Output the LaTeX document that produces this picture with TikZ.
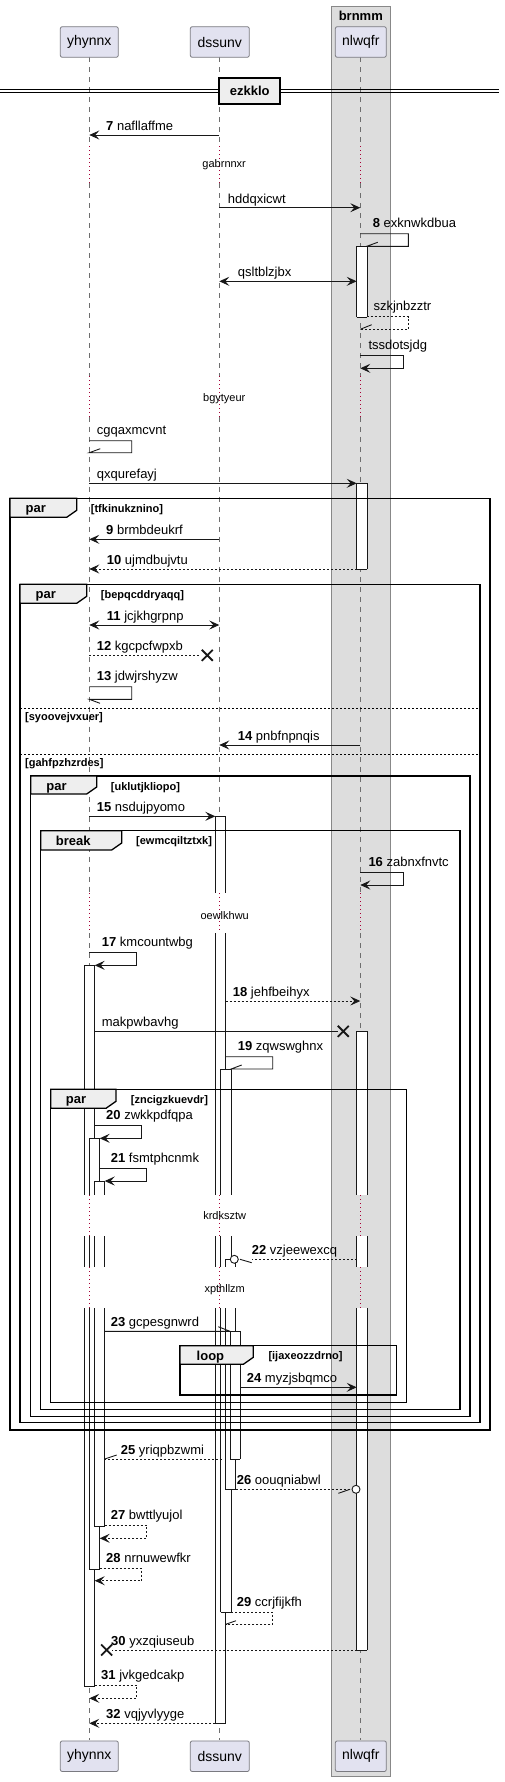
\documentclass[tikz,border=0pt]{standalone}
\usepackage{fontspec}
\setmainfont{Liberation Sans}
\usetikzlibrary{arrows.meta}
\definecolor{partfill}{HTML}{E2E2F0}
\definecolor{partline}{HTML}{7A7A80}
\definecolor{boxfill}{HTML}{DDDDDD}
\definecolor{boxline}{HTML}{888888}
\definecolor{tabfill}{HTML}{EEEEEE}
\definecolor{delaycol}{HTML}{A80036}
\definecolor{lifecol}{HTML}{6E6E6E}
\definecolor{msgcol}{HTML}{181818}
\newcommand{\xY}{89.3}
\newcommand{\xD}{219.3}
\newcommand{\xN}{360.3}
\newcommand{\actseg}[3]{\fill[white] (#1,#2) rectangle (#1+10.4,#3);
  \draw[line width=0.9pt,msgcol] (#1,#2) -- (#1,#3) (#1+10.4,#2) -- (#1+10.4,#3);}
\newcommand{\actcap}[2]{\draw[line width=0.9pt,msgcol] (#1,#2) -- (#1+10.4,#2);}

\begin{document}
\begin{tikzpicture}[x=1pt,y=-1pt,
  lbl/.style={anchor=base west,inner sep=0pt,font=\fontsize{13}{15}\selectfont},
  cond/.style={anchor=base west,inner sep=0pt,font=\fontsize{11}{13}\selectfont\bfseries},
  kw/.style={anchor=base west,inner sep=0pt,font=\fontsize{13}{15}\selectfont\bfseries},
  dly/.style={inner sep=0pt,font=\fontsize{11}{13}\selectfont},
  partbox/.style={draw=partline,fill=partfill,line width=0.8pt,rounded corners=2pt,minimum height=30.6pt,inner sep=0pt,font=\fontsize{14}{16}\selectfont},
  msg/.style={line width=0.9pt,draw=msgcol},
  ret/.style={msg,dash pattern=on 2pt off 2pt},
  fwd/.style={-{Stealth[length=10pt,width=9pt,inset=4pt]}},
  twoway/.style={{Stealth[length=10pt,width=9pt,inset=4pt]}-{Stealth[length=10pt,width=9pt,inset=4pt]}},
  life/.style={draw=lifecol,line width=0.6pt,dash pattern=on 5pt off 5pt},
  dlife/.style={draw=delaycol,line width=0.8pt,dash pattern=on 1pt off 3pt},
  frm/.style={draw=black,line width=1.3pt},
  fragtab/.style={frm,fill=tabfill},
  lostx/.style={line width=1.8pt,draw=msgcol},
  sep/.style={draw=black,line width=0.8pt,dash pattern=on 2pt off 2pt},
]
\useasboundingbox (0,0) rectangle (505,1782);

% box round nlwqfr
\filldraw[fill=boxfill,draw=boxline,line width=0.8pt] (331.3,6) rectangle (390.3,1776.7);
\node[font=\fontsize{13}{15}\selectfont\bfseries] (brnmm) at (360.8,15.5) {brnmm};

% lifelines
\foreach \lx in {\xY,\xD,\xN}{
  \foreach \ya/\yb in {57.3/146,183.3/376,416.7/893.3,933.3/1195,1236/1267.3,1308.3/1740}
    \draw[life] (\lx,\ya) -- (\lx,\yb);
  \foreach \ya/\yb in {146/183.3,376/416.7,893.3/933.3,1195/1236,1267.3/1308.3}
    \draw[dlife] (\lx,\ya) -- (\lx,\yb);
}

% participants
\node[partbox,minimum width=58pt] (yhtop) at (\xY,42) {yhynnx};
\node[partbox,minimum width=59pt] (dstop) at (219.8,42) {dssunv};
\node[partbox,minimum width=51pt] (nltop) at (360.8,42) {nlwqfr};
\node[partbox,minimum width=58pt] (yhbot) at (\xY,1756.2) {yhynnx};
\node[partbox,minimum width=59pt] (dsbot) at (219.8,1756.2) {dssunv};
\node[partbox,minimum width=51pt] (nlbot) at (360.8,1756.2) {nlwqfr};

% divider
\draw[line width=0.9pt] (0,89.3) -- (499,89.3) (0,92.7) -- (499,92.7);
\filldraw[fill=tabfill,line width=1.8pt] (219.3,78) rectangle (280,104);
\node[font=\fontsize{13}{15}\selectfont\bfseries] (ezkklo) at (249.7,91) {ezkklo};

% delays
\node[dly] (gabrnnxr) at (224.2,165) {gabrnnxr};
\node[dly] (bgytyeur) at (224.3,398.3) {bgytyeur};
\node[dly] (oewlkhwu) at (224.7,915.7) {oewlkhwu};
\node[dly] (krdksztw) at (224.7,1216) {krdksztw};
\node[dly] (xpthllzm) at (224.7,1289.3) {xpthllzm};

% activations
\actseg{356.7}{246.3}{317.3}\actcap{356.7}{246.3}\actcap{356.7}{317.3}
\actseg{356.7}{483.3}{569}\actcap{356.7}{483.3}\actcap{356.7}{569}
\actseg{356.7}{1031.3}{1195}\actseg{356.7}{1236}{1267.3}\actseg{356.7}{1308.3}{1650}
\actcap{356.7}{1031.3}\actcap{356.7}{1650}
\actseg{84.3}{965.3}{1195}\actseg{84.3}{1236}{1267.3}\actseg{84.3}{1308.3}{1686}
\actcap{84.3}{965.3}\actcap{84.3}{1686}
\actseg{89.3}{1138.3}{1195}\actseg{89.3}{1236}{1267.3}\actseg{89.3}{1308.3}{1569}
\actcap{89.3}{1138.3}\actcap{89.3}{1569}
\actseg{94.3}{1181}{1195}\actseg{94.3}{1236}{1267.3}\actseg{94.3}{1308.3}{1526}
\actcap{94.3}{1181}\actcap{94.3}{1526}
\actseg{215.3}{816.3}{893.3}\actseg{215.3}{933.3}{1195}\actseg{215.3}{1236}{1267.3}\actseg{215.3}{1308.3}{1723.3}
\actcap{215.3}{816.3}\actcap{215.3}{1723.3}
\actseg{220.7}{1069}{1195}\actseg{220.7}{1236}{1267.3}\actseg{220.7}{1308.3}{1612.3}
\actcap{220.7}{1069}\actcap{220.7}{1612.3}
\actseg{225.3}{1259.3}{1267.3}\actseg{225.3}{1308.3}{1489.3}
\actcap{225.3}{1259.3}\actcap{225.3}{1489.3}
\actseg{230}{1331.3}{1459}\actcap{230}{1331.3}\actcap{230}{1459}

% fragments
\draw[frm] (10,498.3) rectangle (490,1430);
\filldraw[fragtab] (10,498.3) -- (76.7,498.3) -- (76.7,510.3) -- (66.7,517.3) -- (10,517.3) -- cycle;
\node[kw] (par1) at (25.5,512.8) {par};
\node[cond] (c1) at (90.7,512.3) {[tfkinukznino]};

\draw[frm] (20,584.3) rectangle (480,1422.7);
\filldraw[fragtab] (20,584.3) -- (86.7,584.3) -- (86.7,596.3) -- (76.7,603.3) -- (20,603.3) -- cycle;
\node[kw] (par2) at (35.5,598.8) {par};
\node[cond] (c2) at (100.7,598.3) {[bepqcddryaqq]};
\draw[sep] (20,708.3) -- (480,708.3);
\node[cond] (c3) at (25,720.3) {[syoovejvxuer]};
\draw[sep] (20,754.3) -- (480,754.3);
\node[cond] (c4) at (25,766.3) {[gahfpzhzrdes]};

\draw[frm] (30.7,776) rectangle (470,1416.7);
\filldraw[fragtab] (30.7,776) -- (96.7,776) -- (96.7,787) -- (86.7,794) -- (30.7,794) -- cycle;
\node[kw] (par3) at (46.2,790.5) {par};
\node[cond] (c5) at (110.7,790) {[uklutjkliopo]};

\draw[frm] (40.7,830.7) rectangle (460,1409.3);
\filldraw[fragtab] (40.7,830.7) -- (121.7,830.7) -- (121.7,843) -- (111.7,850) -- (40.7,850) -- cycle;
\node[kw] (brk) at (55.7,845.2) {break};
\node[cond] (c6) at (136,844.7) {[ewmcqiltztxk]};

\draw[frm] (50.7,1089.3) rectangle (406.7,1402.3);
\filldraw[fragtab] (50.7,1089.3) -- (116,1089.3) -- (116,1101.3) -- (106,1108.3) -- (50.7,1108.3) -- cycle;
\node[kw] (par4) at (65.7,1103.8) {par};
\node[cond] (c7) at (130.7,1103.3) {[zncigzkuevdr]};

\draw[frm] (180,1345.7) rectangle (396.7,1395);
\filldraw[fragtab] (180,1345.7) -- (253.3,1345.7) -- (253.3,1357.3) -- (243.3,1364.3) -- (180,1364.3) -- cycle;
\node[kw] (lp) at (196.5,1360.2) {loop};
\node[cond] (c8) at (268.3,1359.7) {[ijaxeozzdrno]};

% messages
\draw[msg,fwd] (\xD,135) -- (\xY,135);
\node[lbl] (m7) at (106,130.5) {\textbf{7} nafllaffme};
\draw[msg,fwd] (\xD,207.7) -- (\xN,207.7);
\node[lbl] (ma) at (227.7,203.2) {hddqxicwt};
\draw[msg] (\xN,233.7) -- (408.3,233.7) -- (408.3,246.3) -- (366.7,246.3) -- (377.7,242.3);
\node[lbl] (m8) at (372.7,227.7) {\textbf{8} exknwkdbua};
\draw[msg,twoway] (\xD,281.3) -- (356.7,281.3);
\node[lbl] (mb) at (237.7,276.8) {qsltblzjbx};
\draw[ret] (366.7,316.7) -- (408.3,316.7) -- (408.3,329.3) -- (\xN,329.3);
\draw[msg] (\xN,329.3) -- (371.7,324.7);
\node[lbl] (mc) at (373.3,310.7) {szkjnbzztr};
\draw[msg,fwd] (\xN,355.3) -- (403.3,355.3) -- (403.3,368.3) -- (\xN,368.3);
\node[lbl] (md) at (368.3,349.3) {tssdotsjdg};
\draw[msg] (\xY,440.7) -- (131.7,440.7) -- (131.7,452.7) -- (\xY,452.7) -- (100.3,448.7);
\node[lbl] (me) at (96.7,434.7) {cgqaxmcvnt};
\draw[msg,fwd] (\xY,483.3) -- (356.7,483.3);
\node[lbl] (mf) at (96.7,478.8) {qxqurefayj};
\draw[msg,fwd] (\xD,539.3) -- (\xY,539.3);
\node[lbl] (m9) at (106,534.8) {\textbf{9} brmbdeukrf};
\draw[ret,fwd] (356.7,569) -- (\xY,569);
\node[lbl] (m10) at (106.7,564.5) {\textbf{10} ujmdbujvtu};
\draw[msg,twoway] (\xY,625) -- (\xD,625);
\node[lbl] (m11) at (106.7,620.5) {\textbf{11} jcjkhgrpnp};
\draw[ret] (\xY,655.3) -- (201,655.3);
\draw[lostx] (201.8,649.8) -- (212.8,660.8) (201.8,660.8) -- (212.8,649.8);
\node[lbl] (m12) at (96.7,650.8) {\textbf{12} kgcpcfwpxb};
\draw[msg] (\xY,686.7) -- (131.7,686.7) -- (131.7,699.3) -- (\xY,699.3) -- (100,703.3);
\node[lbl] (m13) at (96.7,680.7) {\textbf{13} jdwjrshyzw};
\draw[msg,fwd] (\xN,745) -- (\xD,745);
\node[lbl] (m14) at (237.7,740.5) {\textbf{14} pnbfnpnqis};
\draw[msg,fwd] (\xY,816.3) -- (215.3,816.3);
\node[lbl] (m15) at (96.7,811.8) {\textbf{15} nsdujpyomo};
\draw[msg,fwd] (\xN,872.7) -- (403.3,872.7) -- (403.3,885) -- (\xN,885);
\node[lbl] (m16) at (368.3,866.7) {\textbf{16} zabnxfnvtc};
\draw[msg,fwd] (\xY,952.3) -- (136.7,952.3) -- (136.7,965.3) -- (94.7,965.3);
\node[lbl] (m17) at (101.7,946.3) {\textbf{17} kmcountwbg};
\draw[ret,fwd] (225.7,1001) -- (\xN,1001);
\node[lbl] (m18) at (232.7,996.5) {\textbf{18} jehfbeihyx};
\draw[msg] (94.7,1031.3) -- (338,1031.3);
\draw[lostx] (337.8,1025.8) -- (348.8,1036.8) (337.8,1036.8) -- (348.8,1025.8);
\node[lbl] (mg) at (101.7,1026.8) {makpwbavhg};
\draw[msg] (225.7,1056.7) -- (272.7,1056.7) -- (272.7,1069) -- (231.1,1069) -- (241.7,1065);
\node[lbl] (m19) at (237.7,1050.7) {\textbf{19} zqwswghnx};
\draw[msg,fwd] (94.7,1125.7) -- (141.7,1125.7) -- (141.7,1138.3) -- (99.7,1138.3);
\node[lbl] (m20) at (106,1119.7) {\textbf{20} zwkkpdfqpa};
\draw[msg,fwd] (99.7,1168.3) -- (146.7,1168.3) -- (146.7,1181) -- (104.7,1181);
\node[lbl] (m21) at (110.7,1162.3) {\textbf{21} fsmtphcnmk};
\draw[ret] (356.7,1259.3) -- (251.7,1259.3);
\draw[msg] (251.7,1262.7) -- (240,1259.3);
\draw[msg,fill=white] (234.3,1259.3) circle (4);
\node[lbl] (m22) at (251.7,1254.3) {\textbf{22} vzjeewexcq};
\draw[msg] (104.7,1331.3) -- (230,1331.3) -- (218.3,1326.7);
\node[lbl] (m23) at (110.7,1326.8) {\textbf{23} gcpesgnwrd};
\draw[msg,fwd] (240.4,1387.3) -- (356.7,1387.3);
\node[lbl] (m24) at (246.7,1382.8) {\textbf{24} myzjsbqmco};
\draw[ret] (221.7,1459) -- (104.7,1459);
\draw[msg] (104.7,1459) -- (116.7,1455);
\node[lbl] (m25) at (120.7,1454.5) {\textbf{25} yriqpbzwmi};
\draw[ret] (235.7,1489.3) -- (350,1489.3);
\draw[msg] (338.3,1493.3) -- (350,1489.3);
\draw[msg,fill=white] (356,1489.3) circle (4);
\node[lbl] (m26) at (236.7,1484.8) {\textbf{26} oouqniabwl};
\draw[ret,fwd] (104.7,1525) -- (146.7,1525) -- (146.7,1538.3) -- (99.7,1538.3);
\node[lbl] (m27) at (110.7,1519) {\textbf{27} bwttlyujol};
\draw[ret,fwd] (99.7,1568.7) -- (141.7,1568.7) -- (141.7,1580.7) -- (94.7,1580.7);
\node[lbl] (m28) at (106,1562.7) {\textbf{28} nrnuwewfkr};
\draw[ret] (231.1,1612.3) -- (272.7,1612.3) -- (272.7,1624.3) -- (225.7,1624.3);
\draw[msg] (225.7,1624.3) -- (236,1620.7);
\node[lbl] (m29) at (236.7,1606.3) {\textbf{29} ccrjfijkfh};
\draw[ret] (356.7,1650) -- (112,1650);
\draw[lostx] (101.2,1644.5) -- (112.2,1655.5) (101.2,1655.5) -- (112.2,1644.5);
\node[lbl] (m30) at (111,1645.5) {\textbf{30} yxzqiuseub};
\draw[ret,fwd] (94.7,1685.3) -- (136.7,1685.3) -- (136.7,1698.3) -- (\xY,1698.3);
\node[lbl] (m31) at (101,1679.3) {\textbf{31} jvkgedcakp};
\draw[ret,fwd] (215.3,1723.3) -- (\xY,1723.3);
\node[lbl] (m32) at (106,1718.8) {\textbf{32} vqjyvlyyge};

\end{tikzpicture}
\end{document}
